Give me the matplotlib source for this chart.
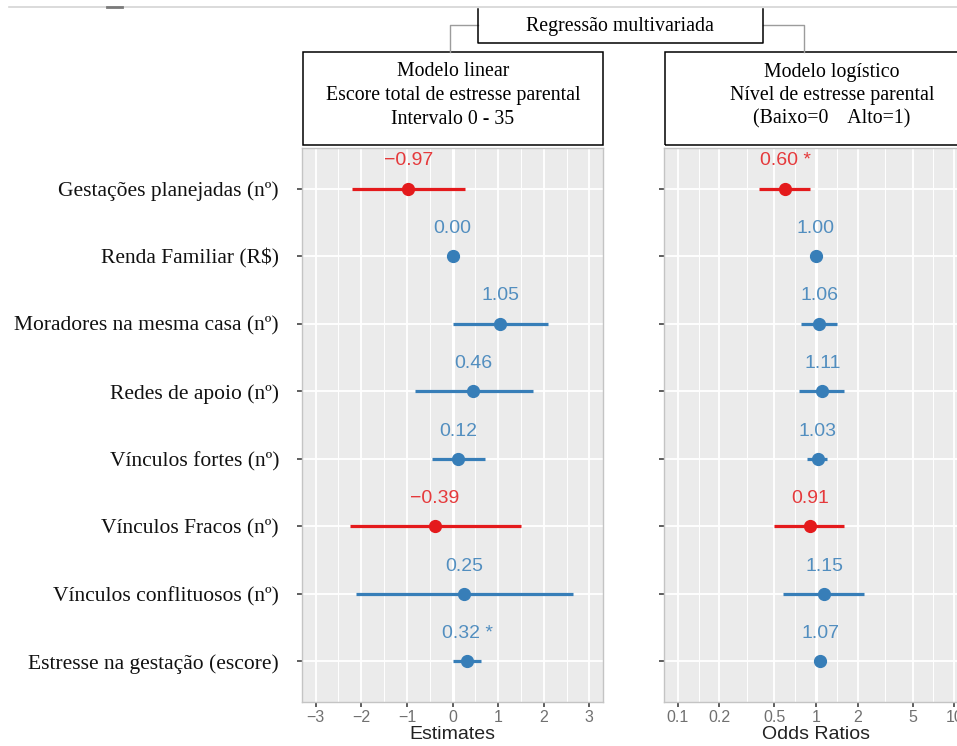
import matplotlib

matplotlib.use("Agg")
import matplotlib.pyplot as plt
import numpy as np
from matplotlib.lines import Line2D
from matplotlib.patches import Rectangle

# ---- data ----
labels = [
    "Gestações planejadas (nº)",
    "Renda Familiar (R\\$)",
    "Moradores na mesma casa (nº)",
    "Redes de apoio (nº)",
    "Vínculos fortes (nº)",
    "Vínculos Fracos (nº)",
    "Vínculos conflituosos (nº)",
    "Estresse na gestação (escore)",
]
lin_est = [-0.97, 0.00, 1.05, 0.46, 0.12, -0.39, 0.25, 0.32]
lin_lo = [-2.21, -0.01, 0.00, -0.83, -0.44, -2.25, -2.12, 0.02]
lin_hi = [0.28, 0.01, 2.10, 1.77, 0.72, 1.51, 2.65, 0.63]
lin_sig = ["", "", "", "", "", "", "", " *"]

log_or = [0.60, 1.00, 1.06, 1.11, 1.03, 0.91, 1.15, 1.07]
log_lo = [0.39, 0.99, 0.78, 0.75, 0.86, 0.50, 0.58, 1.05]
log_hi = [0.91, 1.01, 1.42, 1.60, 1.20, 1.60, 2.23, 1.09]
log_sig = [" *", "", "", "", "", "", "", ""]

lin_ticks = [-3, -2, -1, 0, 1, 2, 3]
log_ticks = [0.1, 0.2, 0.5, 1, 2, 5, 10]
log_ticklabels = ["0.1", "0.2", "0.5", "1", "2", "5", "10"]

RED = "#E41A1C"
BLUE = "#377EB8"
SERIF = ["Liberation Serif", "DejaVu Serif"]
SANS = ["Liberation Sans", "DejaVu Sans"]

W, H = 957, 746


def fx(x):
    return x / W


def fy(y):
    return 1 - y / H


def fmt(v):
    s = f"{v:.2f}"
    return s.replace("-", "\u2212")


def style_panel(ax):
    ax.set_facecolor("#EBEBEB")
    for sp in ax.spines.values():
        sp.set_color("#c4c4c4")
        sp.set_linewidth(1.0)
    ax.tick_params(axis="both", length=3.5, width=1.1, color="#333333",
                   labelcolor="#707070", labelsize=11.5)
    ax.tick_params(axis="x", pad=2.5)
    ax.set_ylim(len(labels) - 0.4, -0.6)
    ax.set_yticks(range(len(labels)))
    for i in range(len(labels)):
        ax.axhline(i, color="white", lw=1.3, zorder=1)


def draw_rows(ax, est, lo, hi, sig, ref):
    for i, (e, a, b, s) in enumerate(zip(est, lo, hi, sig)):
        c = RED if e < ref else BLUE
        ax.plot([a, b], [i, i], color=c, lw=2.3, solid_capstyle="butt", zorder=3)
        ax.plot(e, i, "o", color=c, ms=8.5, zorder=4)
        ax.annotate(fmt(e) + s, (e, i), xytext=(0, 20), textcoords="offset points",
                    ha="center", va="center", fontsize=14, color=c, alpha=0.85,
                    family=SANS, zorder=5)


fig = plt.figure(figsize=(W / 100, H / 100), dpi=100, facecolor="white")

# ---- left panel: linear model ----
ax1 = fig.add_axes([fx(302), fy(702), fx(603) - fx(302), fy(148) - fy(702)])
style_panel(ax1)
ax1.set_xlim(-3.3, 3.3)
ax1.set_xticks(lin_ticks)
ax1.set_xticks(np.arange(-2.5, 3.0, 1.0), minor=True)
ax1.tick_params(axis="x", which="minor", length=0)
for v in lin_ticks:
    ax1.axvline(v, color="white", lw=1.3, zorder=1)
for v in np.arange(-2.5, 3.0, 1.0):
    ax1.axvline(v, color="white", lw=0.7, zorder=1)
ax1.axvline(0, color="white", lw=2.2, zorder=2)
draw_rows(ax1, lin_est, lin_lo, lin_hi, lin_sig, 0)
ax1.set_yticklabels(labels, family=SERIF, fontsize=15.5, color="#111111")
ax1.tick_params(axis="y", labelcolor="#111111", pad=13)
ax1.set_xlabel("Estimates", family=SANS, fontsize=14, color="#222222", labelpad=0.5)
for t in ax1.get_xticklabels():
    t.set_family(SANS)

# ---- right panel: logistic model ----
ax2 = fig.add_axes([fx(664), fy(702), fx(968) - fx(664), fy(148) - fy(702)])
style_panel(ax2)
ax2.set_xscale("log")
ax2.set_xlim(10 ** -1.1, 10 ** 1.1)
ax2.set_xticks(log_ticks)
ax2.set_xticklabels(log_ticklabels)
ax2.minorticks_off()
minor_log = [np.sqrt(a * b) for a, b in zip(log_ticks[:-1], log_ticks[1:])]
for v in log_ticks:
    ax2.axvline(v, color="white", lw=1.3, zorder=1)
for v in minor_log:
    ax2.axvline(v, color="white", lw=0.7, zorder=1)
ax2.axvline(1, color="white", lw=2.2, zorder=2)
draw_rows(ax2, log_or, log_lo, log_hi, log_sig, 1)
ax2.set_yticklabels([])
ax2.set_xlabel("Odds Ratios", family=SANS, fontsize=14, color="#222222", labelpad=0.5)
for t in ax2.get_xticklabels():
    t.set_family(SANS)

# ---- header boxes ----
fig.add_artist(Line2D([fx(9), fx(957)], [fy(7), fy(7)], color="#d4d4d4", lw=1.2))
fig.add_artist(Line2D([fx(107), fx(122)], [fy(7), fy(7)], color="#7a7a7a", lw=2))

grey = "#9c9c9c"
fig.add_artist(Line2D([fx(478), fx(450), fx(450)], [fy(25), fy(25), fy(52)], color=grey, lw=1))
fig.add_artist(Line2D([fx(763), fx(804), fx(804)], [fy(25), fy(25), fy(52)], color=grey, lw=1))
fig.add_artist(Line2D([fx(478), fx(478), fx(763), fx(763)],
                      [fy(9), fy(43), fy(43), fy(9)], color="black", lw=1.1))
fig.text(fx(620), fy(26), "Regressão multivariada", ha="center", va="center",
         family=SERIF, fontsize=14.3)

fig.add_artist(Rectangle((fx(303), fy(145)), fx(603) - fx(303), fy(52) - fy(145),
                         fill=False, edgecolor="black", lw=1.1))
fig.add_artist(Rectangle((fx(665), fy(145)), fx(1000) - fx(665), fy(52) - fy(145),
                         fill=False, edgecolor="black", lw=1.1))
left_box = ["Modelo linear", "Escore total de estresse parental", "Intervalo 0 - 35"]
right_box = ["Modelo logístico", "Nível de estresse parental", "(Baixo=0    Alto=1)"]
for k, (a, b) in enumerate(zip(left_box, right_box)):
    yy = fy(72 + 23.5 * k)
    fig.text(fx(453), yy, a, ha="center", va="center", family=SERIF, fontsize=14.3)
    fig.text(fx(832), yy, b, ha="center", va="center", family=SERIF, fontsize=14.3)

fig.savefig("out.png", dpi=100, facecolor="white")
